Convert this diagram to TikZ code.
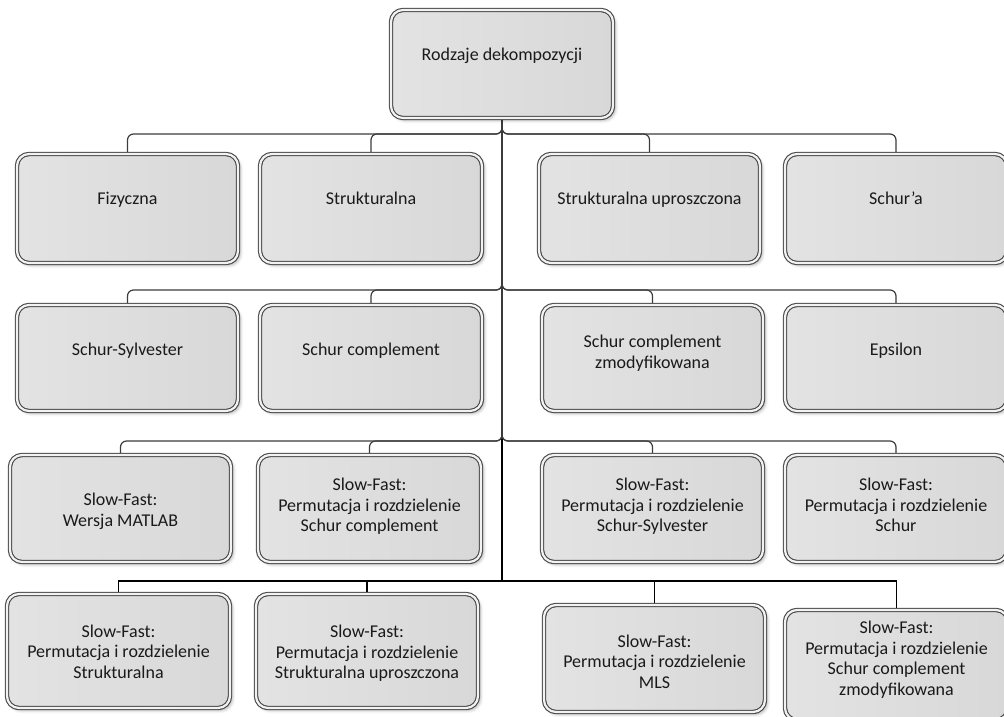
\documentclass[tikz,border=0pt]{standalone}
\usepackage{fontspec}
\setmainfont{Carlito}
\usetikzlibrary{backgrounds,shadows.blur}

\definecolor{boxline}{HTML}{474747}
\definecolor{boxgap}{HTML}{F2F2F2}
\definecolor{boxfillA}{HTML}{E3E3E3}
\definecolor{boxfillB}{HTML}{D8D8D8}
\definecolor{linkgray}{HTML}{3C3C3C}
\definecolor{txtcol}{HTML}{1A1A1A}

\tikzset{
  box/.style={draw=boxline, double=boxgap, double distance=2.2pt, line width=1.1pt,
    rounded corners=12pt, left color=boxfillA, right color=boxfillB,
    inner sep=0pt, outer sep=0pt,
    blur shadow={shadow xshift=2.5pt, shadow yshift=-2.5pt, shadow blur radius=3pt, shadow opacity=30}},
  sz/.style 2 args={minimum width=#1pt, minimum height=#2pt},
  lbl/.style={font=\fontsize{18}{20.5}\selectfont, text=txtcol, align=center, inner sep=0pt},
  lbl1/.style={lbl, anchor=base},
  link/.style={draw=linkgray, line width=1.2pt, rounded corners=6pt},
  linkb/.style={draw=black, line width=1.3pt},
}

\begin{document}
\begin{tikzpicture}[x=1pt,y=-1pt]
\useasboundingbox (0,0) rectangle (1004,716);

% bus levels of the four rows
\coordinate (bus1) at (0,134);
\coordinate (bus2) at (0,290);
\coordinate (bus3) at (0,441);
\coordinate (bus4) at (0,581);

% root
\node[box, sz={222}{108}] (root) at (502,64) {};
\node[lbl1] (root-t) at (502,60) {Rodzaje dekompozycji};

% row 1
\node[box, sz={221}{109}] (a1) at (127.5,208.5) {};
\node[box, sz={222}{109}] (a2) at (371,208.5) {};
\node[box, sz={221}{109}] (a3) at (649.5,208.5) {};
\node[box, sz={222}{109}] (a4) at (896,208.5) {};
\node[lbl1] (a1-t) at (127.5,204) {Fizyczna};
\node[lbl1] (a2-t) at (371,204) {Strukturalna};
\node[lbl1] (a3-t) at (649.5,204) {Strukturalna uproszczona};
\node[lbl1] (a4-t) at (896,204) {Schur’a};

% row 2
\node[box, sz={221}{106}] (b1) at (127.5,358) {};
\node[box, sz={222}{106}] (b2) at (371,358) {};
\node[box, sz={221}{106}] (b3) at (652.5,358) {};
\node[box, sz={222}{106}] (b4) at (896,358) {};
\node[lbl1] (b1-t) at (127.5,355) {Schur-Sylvester};
\node[lbl1] (b2-t) at (371,355) {Schur complement};
\node[lbl] (b3-t) at (652.5,353) {Schur complement\\zmodyfikowana};
\node[lbl1] (b4-t) at (896,355) {Epsilon};

% row 3
\node[box, sz={221}{107}] (c1) at (120.5,508.5) {};
\node[box, sz={223}{107}] (c2) at (369.5,508.5) {};
\node[box, sz={221}{107}] (c3) at (652.5,508.5) {};
\node[box, sz={222}{107}] (c4) at (896,508.5) {};
\node[lbl] (c1-t) at (120.5,511.5) {Slow-Fast:\\Wersja MATLAB};
\node[lbl] (c2-t) at (369.5,506.5) {Slow-Fast:\\Permutacja i rozdzielenie\\Schur complement};
\node[lbl] (c3-t) at (652.5,506.5) {Slow-Fast:\\Permutacja i rozdzielenie\\Schur-Sylvester};
\node[lbl] (c4-t) at (896,505) {Slow-Fast:\\Permutacja i rozdzielenie\\Schur};

% row 4
\node[box, sz={223}{114}] (d1) at (118.5,651) {};
\node[box, sz={222}{114}] (d2) at (367,651) {};
\node[box, sz={221}{107}] (d3) at (654.5,658.5) {};
\node[box, sz={223}{110}] (d4) at (896.5,665) {};
\node[lbl] (d1-t) at (118.5,651.5) {Slow-Fast:\\Permutacja i rozdzielenie\\Strukturalna};
\node[lbl] (d2-t) at (367,653.5) {Slow-Fast:\\Permutacja i rozdzielenie\\Strukturalna uproszczona};
\node[lbl] (d3-t) at (654.5,661.5) {Slow-Fast:\\Permutacja i rozdzielenie\\MLS};
\node[lbl] (d4-t) at (896.5,659.5) {Slow-Fast:\\Permutacja i rozdzielenie\\Schur complement\\zmodyfikowana};

% connectors
\begin{scope}[on background layer]
  \foreach \n in {d1,d2,d3,d4}
    \draw[linkb] (root.south) -- (root.south |- bus4) -| (\n.north);
  \foreach \n in {a1,a2,a3,a4}
    \draw[link] (root.south) -- (root.south |- bus1) -| (\n.north);
  \foreach \n in {b1,b2,b3,b4}
    \draw[link] (root.south) -- (root.south |- bus2) -| (\n.north);
  \foreach \n in {c1,c2,c3,c4}
    \draw[link] (root.south) -- (root.south |- bus3) -| (\n.north);
\end{scope}
\end{tikzpicture}
\end{document}
